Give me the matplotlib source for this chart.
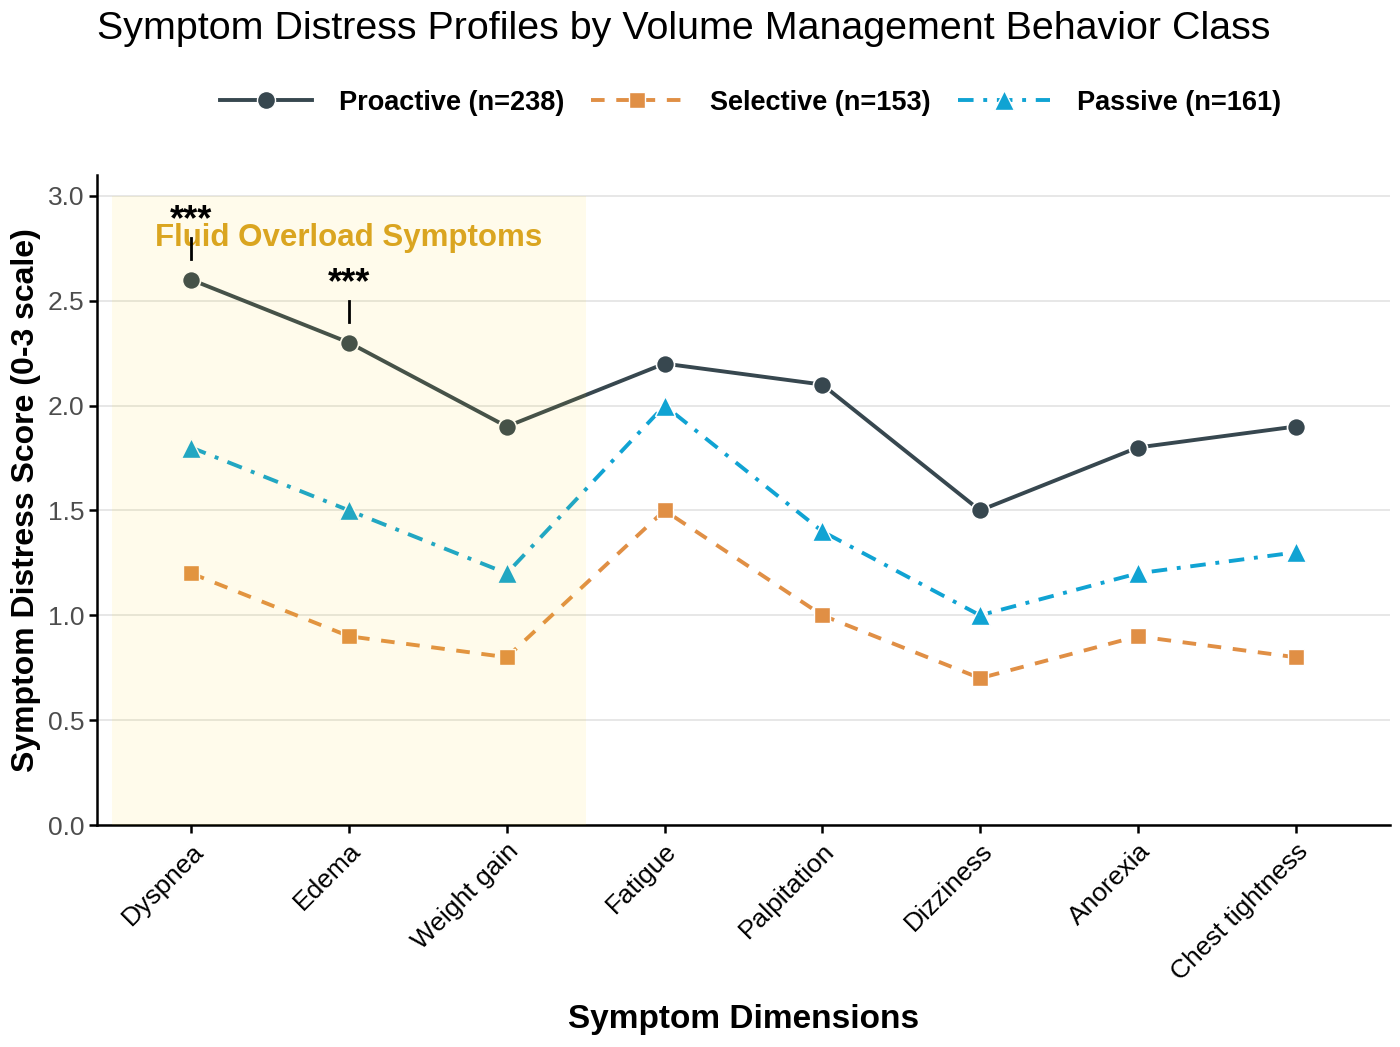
import matplotlib
matplotlib.use('Agg')
from matplotlib import pyplot as plt
from matplotlib.lines import Line2D

plt.rcParams['font.family'] = ['Liberation Sans', 'DejaVu Sans']

# ---------------- data ----------------
symptoms = ['Dyspnea', 'Edema', 'Weight gain', 'Fatigue', 'Palpitation',
            'Dizziness', 'Anorexia', 'Chest tightness']
proactive = [2.6, 2.3, 1.9, 2.2, 2.1, 1.5, 1.8, 1.9]
selective = [1.2, 0.9, 0.8, 1.5, 1.0, 0.7, 0.9, 0.8]
passive = [1.8, 1.5, 1.2, 2.0, 1.4, 1.0, 1.2, 1.3]
labels = ['Proactive (n=238)', 'Selective (n=153)', 'Passive (n=161)']
signif_idx = [0, 1]          # symptoms marked ***
fluid_span = (-0.5, 2.5)     # shaded fluid overload block

c_pro = '#37474F'
c_sel = '#E08F45'
c_pas = '#10A3D3'
ls_sel = (0, (3.5, 3))
ls_pas = (0, (4, 2.5, 1, 2.5))

x = list(range(len(symptoms)))

fig = plt.figure(figsize=(14, 10.47), dpi=100)
ax = fig.add_axes([0.069, 0.212, 0.924, 0.621])

ax.plot(x, proactive, '-', color=c_pro, lw=2.8, marker='o', ms=13,
        mfc=c_pro, mec='white', mew=1.2, zorder=3, label=labels[0])
ax.plot(x, selective, color=c_sel, lw=2.8, ls=ls_sel, marker='s', ms=11,
        mfc=c_sel, mec='white', mew=1.0, zorder=3, label=labels[1])
ax.plot(x, passive, color=c_pas, lw=2.8, ls=ls_pas, marker='^', ms=14,
        mfc=c_pas, mec='white', mew=1.0, zorder=3, label=labels[2])

# shaded block goes over the lines, like the original
ax.axvspan(fluid_span[0], fluid_span[1], ymin=0, ymax=3.0 / 3.1,
           facecolor='#FFD700', alpha=0.08, lw=0, zorder=4)
ax.text(1, 2.8, 'Fluid Overload Symptoms', color='#DAA520', fontsize=22.5,
        fontweight='bold', ha='center', va='center', zorder=6)

for i in signif_idx:
    v = proactive[i]
    ax.plot([i, i], [v + 0.1, v + 0.2], color='black', lw=2, zorder=6)
    ax.text(i, v + 0.235, '***', fontsize=26, fontweight='bold',
            ha='center', va='baseline', zorder=6)

ax.set_xlim(-0.6, len(symptoms) - 0.4)
ax.set_ylim(0, 3.1)
ax.set_yticks([0, 0.5, 1.0, 1.5, 2.0, 2.5, 3.0])
ax.set_yticklabels(['0.0', '0.5', '1.0', '1.5', '2.0', '2.5', '3.0'])
ax.set_xticks(x)
ax.set_xticklabels(symptoms, rotation=45, ha='right', rotation_mode='anchor')

ax.grid(axis='y', color='#E3E3E3', lw=1.2, zorder=0)
ax.set_axisbelow(True)
for s in ['top', 'right']:
    ax.spines[s].set_visible(False)
for s in ['left', 'bottom']:
    ax.spines[s].set_linewidth(1.8)
    ax.spines[s].set_color('black')
ax.tick_params(axis='both', length=6, width=1.8, color='black')
ax.tick_params(axis='y', labelsize=19, labelcolor='#4D4D4D', pad=3)
ax.tick_params(axis='x', labelsize=19, labelcolor='black', pad=4)

ax.set_xlabel('Symptom Dimensions', fontsize=24, fontweight='bold', va='top')
ax.xaxis.set_label_coords(0.5, -0.275)
ax.set_ylabel('Symptom Distress Score (0-3 scale)', fontsize=23, fontweight='bold', labelpad=5)

fig.text(0.069, 0.972, 'Symptom Distress Profiles by Volume Management Behavior Class',
         fontsize=28.4, ha='left', va='center')

handles = [
    Line2D([], [], color=c_pro, lw=2.8, marker='o', ms=13, mfc=c_pro, mec='white'),
    Line2D([], [], color=c_sel, lw=2.8, ls=ls_sel, marker='s', ms=11, mfc=c_sel, mec='white'),
    Line2D([], [], color=c_pas, lw=2.8, ls=ls_pas, marker='^', ms=14, mfc=c_pas, mec='white'),
]
leg = fig.legend(handles, labels, loc='center', bbox_to_anchor=(0.536, 0.902), ncol=3,
                 frameon=False, handlelength=3.4, handletextpad=1.0, columnspacing=1.0,
                 prop={'size': 19.5, 'weight': 'bold'})

fig.savefig('out.png', dpi=100)
